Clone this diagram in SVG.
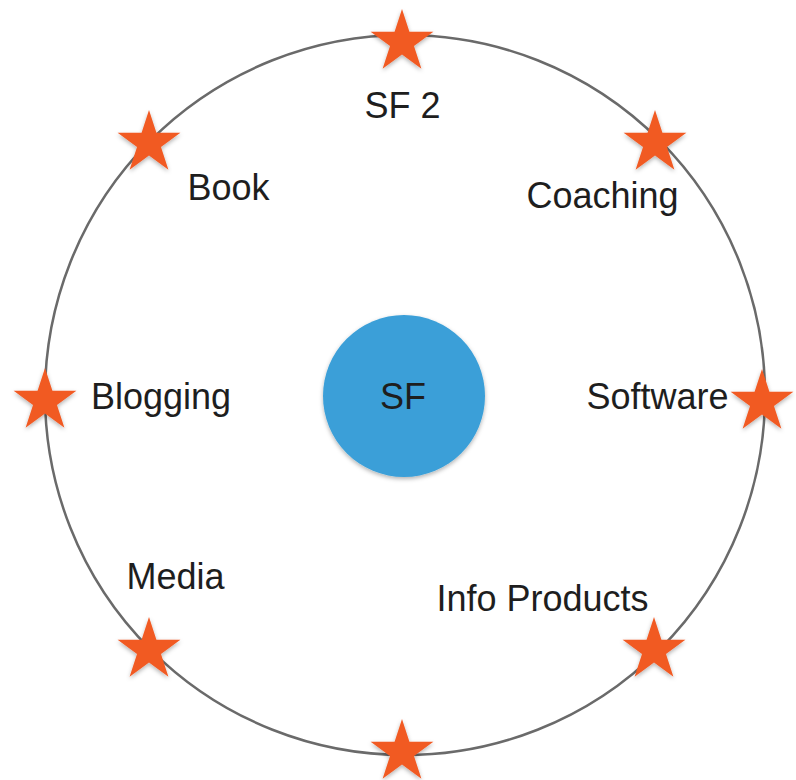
<svg xmlns="http://www.w3.org/2000/svg" xmlns:xlink="http://www.w3.org/1999/xlink" width="796" height="780" viewBox="0 0 796 780">
  <style>
    .lbl { font-family: "Liberation Sans", Arial, sans-serif; font-size: 36px; fill: #1e1e1e; text-anchor: middle; }
    .ring { fill: none; stroke: #6a6a6a; stroke-width: 2.5; }
    .star { fill: #F15A24; }
  </style>
  <defs>
    <filter id="shadow" x="-30%" y="-30%" width="160%" height="170%">
      <feDropShadow dx="0" dy="2" stdDeviation="2" flood-color="#000" flood-opacity="0.3"/>
    </filter>
    <path id="star" class="star" d="M0,-33 L7.41,-10.19 L31.38,-10.2 L11.98,3.89 L19.4,26.7 L0,12.6 L-19.4,26.7 L-11.98,3.89 L-31.38,-10.2 L-7.41,-10.19 Z"/>
  </defs>
  <rect width="796" height="780" fill="#ffffff"/>
  <g id="connectors">
    <circle class="ring" cx="405" cy="395" r="360"/>
  </g>
  <g id="center">
    <circle cx="404" cy="396" r="81" fill="#3A9FD8" filter="url(#shadow)"/>
    <text class="lbl" x="403" y="409">SF</text>
  </g>
  <g id="sf2">
    <use href="#star" x="402" y="42" filter="url(#shadow)"/>
    <text class="lbl" x="402.5" y="118">SF 2</text>
  </g>
  <g id="coaching">
    <use href="#star" x="655" y="143" filter="url(#shadow)"/>
    <text class="lbl" x="602.5" y="208">Coaching</text>
  </g>
  <g id="software">
    <use href="#star" x="762" y="402" filter="url(#shadow)"/>
    <text class="lbl" x="657.5" y="409">Software</text>
  </g>
  <g id="info-products">
    <use href="#star" x="654" y="650" filter="url(#shadow)"/>
    <text class="lbl" x="542.5" y="611">Info Products</text>
  </g>
  <g id="bottom">
    <use href="#star" x="402" y="752" filter="url(#shadow)"/>
  </g>
  <g id="media">
    <use href="#star" x="149" y="650" filter="url(#shadow)"/>
    <text class="lbl" x="175.5" y="589">Media</text>
  </g>
  <g id="blogging">
    <use href="#star" x="45" y="401" filter="url(#shadow)"/>
    <text class="lbl" x="161" y="409">Blogging</text>
  </g>
  <g id="book">
    <use href="#star" x="149" y="143" filter="url(#shadow)"/>
    <text class="lbl" x="228.5" y="200">Book</text>
  </g>
</svg>
